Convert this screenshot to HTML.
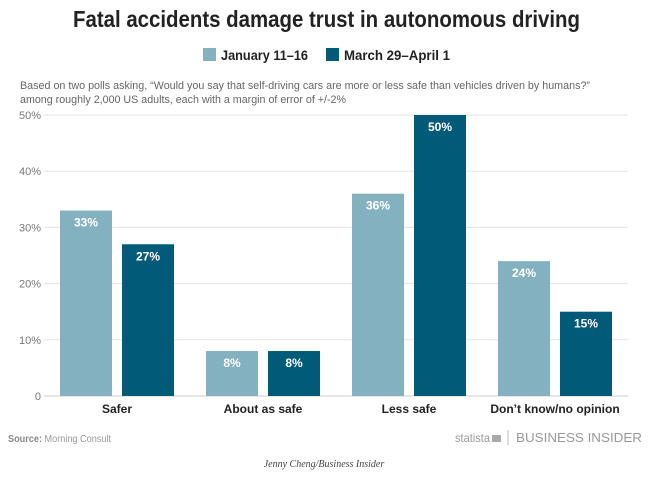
<!DOCTYPE html>
<html><head><meta charset="utf-8"><style>
body{margin:0;background:#fff;width:649px;height:477px;overflow:hidden;font-family:"Liberation Sans",sans-serif}
</style></head><body>
<svg width="649" height="477">
<text x="73" y="27" textLength="507" lengthAdjust="spacingAndGlyphs" font-size="23" font-weight="bold" fill="#222">Fatal accidents damage trust in autonomous driving</text>
<g>
<rect x="203" y="48" width="13" height="13" fill="#84b1c0"/>
<text x="221" y="60" textLength="87" lengthAdjust="spacingAndGlyphs" font-size="14" font-weight="bold" fill="#222">January 11–16</text>
<rect x="326" y="48" width="13" height="13" fill="#005a78"/>
<text x="344" y="60" textLength="106" lengthAdjust="spacingAndGlyphs" font-size="14" font-weight="bold" fill="#222">March 29–April 1</text>
</g>
<text x="20" y="89" textLength="570" lengthAdjust="spacingAndGlyphs" font-size="11" fill="#666">Based on two polls asking, “Would you say that self-driving cars are more or less safe than vehicles driven by humans?”</text>
<text x="20" y="103" textLength="326" lengthAdjust="spacingAndGlyphs" font-size="11" fill="#666">among roughly 2,000 US adults, each with a margin of error of +/-2%</text>
<g id="plot"></g>
<text x="8" y="442" textLength="103" lengthAdjust="spacingAndGlyphs" font-size="10" fill="#999"><tspan font-weight="bold" fill="#888">Source:</tspan> Morning Consult</text>
<text x="455" y="442" textLength="35" lengthAdjust="spacingAndGlyphs" font-size="12" fill="#999">statista</text>
<rect x="492" y="435" width="9" height="7" fill="#aaa"/>
<line x1="508" y1="430" x2="508" y2="445" stroke="#bbb"/>
<text x="516" y="442" textLength="126" lengthAdjust="spacingAndGlyphs" font-size="13" fill="#999">BUSINESS INSIDER</text>
<text x="324" y="467" text-anchor="middle" font-size="10" font-style="italic" fill="#444" font-family="Liberation Serif,serif">Jenny Cheng/Business Insider</text>
</svg>
<script>
const categories=["Safer","About as safe","Less safe","Don’t know/no opinion"];
const janValues=[33,8,36,24];
const marValues=[27,8,50,15];
const yTicks=[0,10,20,30,40,50];
const NS="http://www.w3.org/2000/svg";
const g=document.getElementById('plot');
const x0=44,x1=628,yBase=396,yTop=115,yMax=50;
const y=v=>yBase-(yBase-yTop)*v/yMax;
const groupW=(x1-x0)/categories.length;
function mk(t,a){const e=document.createElementNS(NS,t);for(const k in a)e.setAttribute(k,a[k]);g.appendChild(e);return e;}
yTicks.forEach(t=>{
 const l=mk('line',{x1:x0,x2:x1,y1:y(t),y2:y(t),stroke:t?'#e3e3e3':'#ccc'});
 
 
 const tx=mk('text',{x:x0-3,y:y(t)+4,'text-anchor':'end','font-size':11,fill:'#777'});
 tx.textContent=t?t+'%':'0';
 
 
});
categories.forEach((c,i)=>{
 const cx=x0+groupW*(i+0.5);
 [[janValues[i],'#84b1c0',cx-57,'jan'],[marValues[i],'#005a78',cx+5,'mar']].forEach(([v,col,bx,s])=>{
  const r=mk('rect',{x:bx,y:y(v),width:52,height:yBase-y(v),fill:col});
  
  
  const t=mk('text',{x:bx+26,y:y(v)+16,'text-anchor':'middle','font-size':12,'font-weight':'bold',fill:'#fff'});
  t.textContent=v+'%';
  
  
 });
 const lt=mk('text',{x:cx,y:413,'text-anchor':'middle','font-size':12,'font-weight':'bold',fill:'#222'});
 lt.textContent=c;
 
 
});
</script>
</body></html>
